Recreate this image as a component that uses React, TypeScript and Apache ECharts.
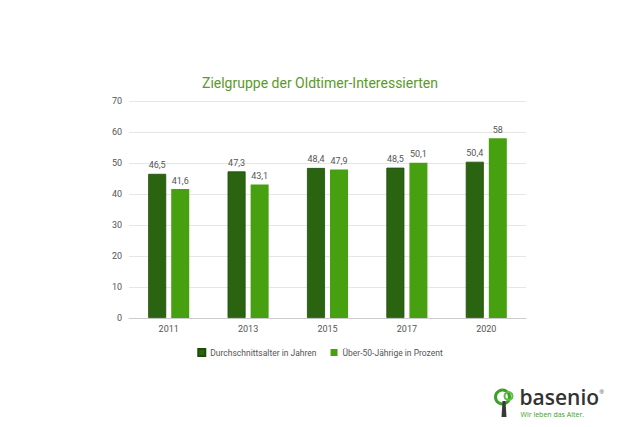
import React, { useEffect, useRef } from "react";
import * as echarts from "echarts";

const categories = ["2011", "2013", "2015", "2017", "2020"];
const durchschnittsalter = [46.5, 47.3, 48.4, 48.5, 50.4];
const ueber50 = [41.6, 43.1, 47.9, 50.1, 58];
const seriesNames = ["Durchschnittsalter in Jahren", "Über-50-Jährige in Prozent"];

const fmt = (v: number) => String(v).replace(".", ",");

export default function App() {
  const ref = useRef<HTMLDivElement>(null);
  useEffect(() => {
    if (!ref.current) return;
    const chart = echarts.init(ref.current, null, { renderer: "svg" });
    const font = "Roboto, 'Liberation Sans', sans-serif";
    chart.setOption({
      animation: false,
      backgroundColor: "#ffffff",
      title: {
        text: "Zielgruppe der Oldtimer-Interessierten",
        left: "center",
        top: 71,
        textStyle: { color: "#5a9a2a", fontSize: 14, fontWeight: "normal", fontFamily: font },
      },
      legend: {
        top: 343,
        left: "center",
        itemWidth: 7,
        itemHeight: 7,
        itemGap: 14,
        icon: "rect",
        textStyle: { color: "#555", fontSize: 8.5, fontFamily: font },
        data: seriesNames,
      },
      grid: { left: 129, right: 114, top: 101, bottom: 109, containLabel: false },
      xAxis: {
        type: "category",
        data: categories,
        axisTick: { show: false },
        axisLine: { lineStyle: { color: "#cccccc" } },
        axisLabel: { color: "#555", fontSize: 9, fontFamily: font, margin: 6 },
      },
      yAxis: {
        type: "value",
        min: 0,
        max: 70,
        interval: 10,
        axisLine: { show: false },
        axisTick: { show: false },
        axisLabel: { color: "#555", fontSize: 9, fontFamily: font, margin: 7 },
        splitLine: { lineStyle: { color: "#e6e6e6" } },
      },
      series: [
        {
          name: seriesNames[0],
          type: "bar",
          data: durchschnittsalter,
          barWidth: 18,
          barGap: "28%",
          itemStyle: { color: "#2b6410", borderColor: "#1f4c0a", borderWidth: 0.8 },
          label: {
            show: true,
            position: "top",
            distance: 4,
            color: "#555",
            fontSize: 9,
            fontFamily: font,
            formatter: (p: any) => fmt(p.value),
          },
        },
        {
          name: seriesNames[1],
          type: "bar",
          data: ueber50,
          barWidth: 18,
          itemStyle: { color: "#47a010" },
          label: {
            show: true,
            position: "top",
            distance: 4,
            color: "#555",
            fontSize: 9,
            fontFamily: font,
            formatter: (p: any) => fmt(p.value),
          },
        },
      ],
      graphic: [
        {
          type: "group",
          left: 493,
          top: 386,
          children: [
            { type: "circle", shape: { cx: 12, cy: 9, r: 7 }, style: { fill: "none", stroke: "#3aa028", lineWidth: 3 } },
            { type: "circle", shape: { cx: 18, cy: 8, r: 4 }, style: { fill: "none", stroke: "#5cc043", lineWidth: 2 } },
            { type: "polygon", shape: { points: [[12, 13], [15, 13], [16, 29], [11, 29]] }, style: { fill: "#3a3a3a" } },
            {
              type: "text",
              x: 29,
              y: -2,
              style: { text: "basenio", fill: "#333", fontSize: 21, fontWeight: 600, fontFamily: "'Open Sans', sans-serif" },
            },
            {
              type: "text",
              x: 109,
              y: 1,
              style: { text: "®", fill: "#333", fontSize: 6, fontFamily: "sans-serif" },
            },
            {
              type: "text",
              x: 30,
              y: 23,
              style: { text: "Wir leben das Alter.", fill: "#3aa028", fontSize: 7, fontFamily: "'Open Sans', sans-serif" },
            },
          ],
        },
      ],
    });
    return () => chart.dispose();
  }, []);
  return <div ref={ref} style={{ width: 640, height: 427, position: "absolute", left: 0, top: 0 }} />;
}
